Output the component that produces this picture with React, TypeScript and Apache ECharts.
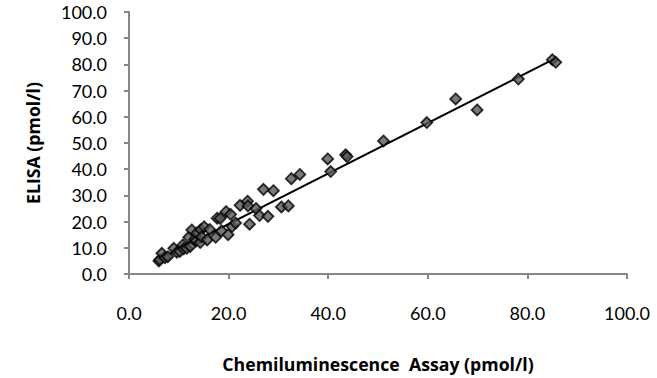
import React, { useEffect, useRef } from "react";
import * as echarts from "echarts";

const xTicks = [0, 20, 40, 60, 80, 100];
const yTicks = [0, 10, 20, 30, 40, 50, 60, 70, 80, 90, 100];

const chemiValues = [
  6.0, 6.2, 6.6, 7.2, 7.8, 9.0, 9.6, 10.2, 10.8, 11.0, 11.6, 12.3, 12.0, 12.6, 13.2,
  13.5, 13.6, 14.3, 14.4, 14.6, 15.1, 15.7, 16.2, 17.4, 17.7, 18.3, 18.6, 19.5, 19.9,
  20.4, 20.7, 21.4, 22.3, 23.8, 23.9, 24.2, 25.5, 26.2, 27.0, 27.9, 29.0, 30.6, 32.0,
  32.6, 34.3, 39.9, 40.5, 43.5, 43.8, 51.1, 59.8, 65.6, 69.9, 78.2, 85.0, 85.7,
];
const elisaValues = [
  5.0, 5.5, 7.9, 6.2, 6.6, 9.8, 8.3, 8.6, 11.1, 9.6, 9.8, 10.5, 14.0, 16.8, 13.2,
  12.7, 15.6, 12.0, 16.9, 14.2, 18.0, 13.0, 17.0, 14.0, 21.3, 21.2, 16.5, 23.8, 15.0,
  22.8, 18.1, 19.5, 26.2, 27.8, 26.0, 19.0, 25.0, 22.3, 32.3, 22.0, 31.8, 25.6, 26.0,
  36.4, 38.0, 43.9, 39.1, 45.5, 44.8, 50.8, 57.8, 66.8, 62.6, 74.4, 81.8, 80.8,
];
const trendX = [5.9, 85.7];
const trendY = [5.5, 82.4];

const FONT = "Lato";
const TITLE_FONT = "Open Sans";

export default function App() {
  const ref = useRef<HTMLDivElement>(null);
  useEffect(() => {
    if (!ref.current) return;
    const chart = echarts.init(ref.current, undefined, { renderer: "svg" });
    const axisColor = "#868686";
    chart.setOption({
      animation: false,
      backgroundColor: "#ffffff",
      grid: { left: 129, right: 30, top: 12, bottom: 104 },
      xAxis: {
        type: "value",
        min: xTicks[0],
        max: xTicks[xTicks.length - 1],
        interval: 20,
        name: "Chemiluminescence  Assay (pmol/l)",
        nameLocation: "middle",
        nameGap: 81,
        nameTextStyle: { fontFamily: TITLE_FONT, fontSize: 17.7, fontWeight: "bold", color: "#000" },
        axisLine: { show: true, lineStyle: { color: axisColor, width: 2 } },
        axisTick: { show: true, length: 5, lineStyle: { color: axisColor, width: 2 } },
        axisLabel: {
          margin: 30,
          fontFamily: FONT,
          fontSize: 18,
          color: "#000",
          formatter: (v: number) => v.toFixed(1),
        },
        splitLine: { show: false },
      },
      yAxis: {
        type: "value",
        min: yTicks[0],
        max: yTicks[yTicks.length - 1],
        interval: 10,
        name: "ELISA (pmol/l)",
        nameLocation: "middle",
        nameGap: 87,
        nameTextStyle: { fontFamily: TITLE_FONT, fontSize: 17.7, fontWeight: "bold", color: "#000" },
        axisLine: { show: true, lineStyle: { color: axisColor, width: 2 } },
        axisTick: { show: true, length: 5, lineStyle: { color: axisColor, width: 2 } },
        axisLabel: {
          margin: 22,
          fontFamily: FONT,
          fontSize: 18,
          color: "#000",
          formatter: (v: number) => v.toFixed(1),
        },
        splitLine: { show: false },
      },
      series: [
        {
          type: "line",
          data: trendX.map((x, i) => [x, trendY[i]]),
          showSymbol: false,
          symbol: "none",
          lineStyle: { color: "#000", width: 2 },
          z: 1,
        },
        {
          type: "scatter",
          data: chemiValues.map((x, i) => [x, elisaValues[i]]),
          symbol: "diamond",
          symbolSize: 11,
          itemStyle: { color: "#585858", borderColor: "#000", borderWidth: 1.8 },
          z: 2,
        },
      ],
    });
    return () => chart.dispose();
  }, []);
  return (
    <div
      ref={ref}
      style={{ position: "fixed", left: 0, top: 0, width: 657, height: 378 }}
    />
  );
}
